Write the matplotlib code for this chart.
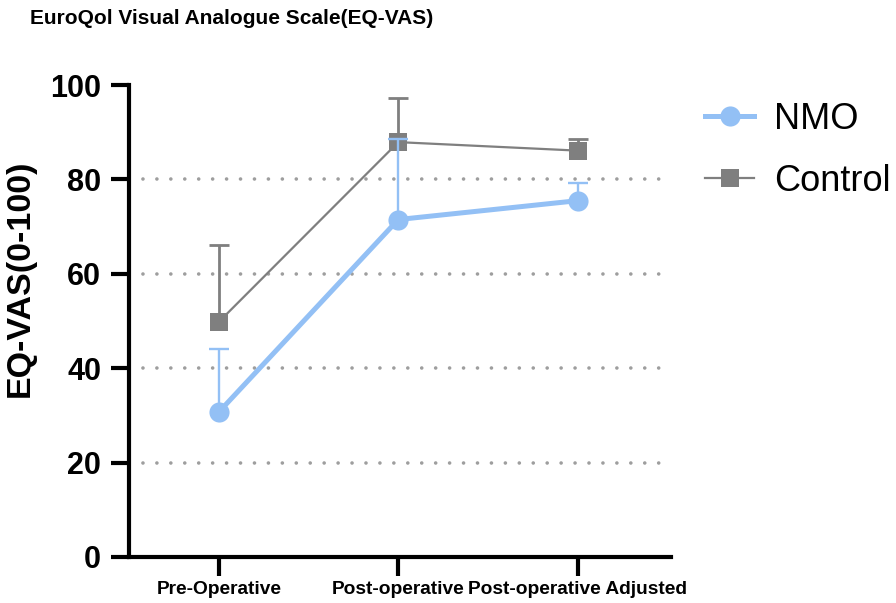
"""
EQ-VAS line chart: NMO vs Control across surgery timepoints.
Output: out.png
"""
import matplotlib
matplotlib.use("Agg")
import matplotlib.pyplot as plt
from matplotlib.lines import Line2D

# Data
timepoints = ["Pre-Operative", "Post-operative", "Post-operative Adjusted"]
nmo_mean = [30.7, 71.5, 75.5]
nmo_sd = [13.3, 17.1, 3.7]
control_mean = [49.8, 87.9, 86.1]
control_sd = [16.4, 9.4, 2.4]
y_ticks = [0, 20, 40, 60, 80, 100]
grid_levels = [20, 40, 60, 80]

NMO_COLOR = "#93C0F5"
CTRL_COLOR = "#7F7F7F"
BOLD_FONT = ["Liberation Sans", "DejaVu Sans"]

fig = plt.figure(figsize=(8.96, 6.03), dpi=100)
ax = fig.add_axes([0.144, 0.0763, 0.605, 0.7827])

x = list(range(len(timepoints)))


def upper_errorbar(ax, xs, mean, sd, color, lw, z):
    # upper-only error bar: stem + cap (no cap at the mean)
    tops = [m + s for m, s in zip(mean, sd)]
    ax.vlines(xs, mean, tops, colors=color, linewidth=lw, zorder=z, clip_on=False)
    ax.plot(xs, tops, linestyle="none", marker="_", markersize=14, markeredgewidth=lw,
            color=color, zorder=z, clip_on=False)


# dotted reference lines
for lvl in grid_levels:
    ax.axhline(lvl, color="#9E9E9E", linewidth=2.6, linestyle=(0, (0.01, 3.85)),
               dash_capstyle="round", zorder=1)

# Control (drawn first, NMO sits on top)
upper_errorbar(ax, x, control_mean, control_sd, CTRL_COLOR, 2.0, 3)
ax.plot(x, control_mean, color=CTRL_COLOR, linewidth=1.6, marker="s",
        markersize=13.5, markeredgewidth=0, zorder=3.5, clip_on=False)
# NMO
upper_errorbar(ax, x, nmo_mean, nmo_sd, NMO_COLOR, 1.7, 4)
ax.plot(x, nmo_mean, color=NMO_COLOR, linewidth=3.6, marker="o",
        markersize=14.5, markeredgewidth=0, zorder=4.5, clip_on=False)

ax.set_xlim(-0.5, 2.52)
ax.set_ylim(0, 100)
ax.set_xticks(x)
ax.set_xticklabels(timepoints, fontsize=13.8, fontweight="bold", family=BOLD_FONT)
ax.set_yticks(y_ticks)
ax.set_yticklabels([str(v) for v in y_ticks], fontsize=22, fontweight="bold", family=BOLD_FONT)
ax.tick_params(axis="y", direction="out", length=13, width=3, pad=7)
ax.tick_params(axis="x", direction="out", length=14, width=3, pad=3.5)

for side in ["top", "right"]:
    ax.spines[side].set_visible(False)
for side in ["left", "bottom"]:
    ax.spines[side].set_linewidth(3)
    ax.spines[side].set_capstyle("projecting")

ax.set_ylabel("EQ-VAS(0-100)", fontsize=24.5, fontweight="bold", family=BOLD_FONT)
ax.yaxis.set_label_coords(-0.172, 0.59)

fig.text(0.259, 0.970, "EuroQol Visual Analogue Scale(EQ-VAS)", ha="center", va="center",
         fontsize=15, fontweight="bold", family=BOLD_FONT)

handles = [
    Line2D([], [], color=NMO_COLOR, linewidth=3.6, marker="o", markersize=14.5, markeredgewidth=0),
    Line2D([], [], color=CTRL_COLOR, linewidth=1.6, marker="s", markersize=13.5, markeredgewidth=0),
]
ax.legend(handles, ["NMO", "Control"], loc="center left",
          bbox_to_anchor=(0.787, 0.751), bbox_transform=fig.transFigure,
          frameon=False, borderpad=0, borderaxespad=0, handlelength=1.35,
          handletextpad=0.55, labelspacing=0.75,
          prop={"family": BOLD_FONT, "size": 26})

fig.savefig("out.png", dpi=100)
